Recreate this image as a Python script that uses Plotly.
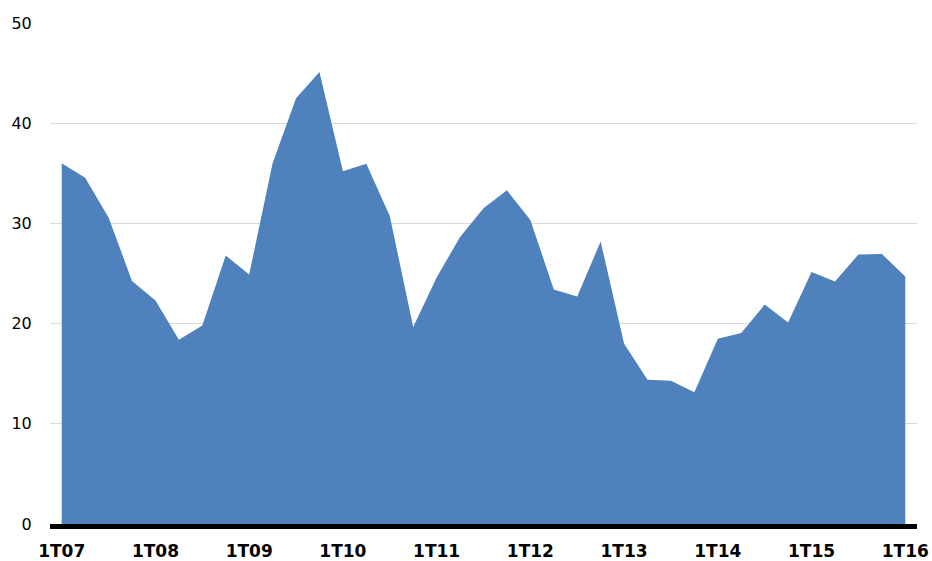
import plotly.graph_objects as go

quarters = [f"{q}T{y:02d}" for y in range(7, 17) for q in range(1, 5)][:37]
values = [36.0, 34.55, 30.6, 24.25, 22.3, 18.4, 19.8, 26.8, 24.9, 36.0, 42.5, 45.1,
          35.2, 35.95, 30.75, 19.65, 24.6, 28.65, 31.5, 33.3, 30.35, 23.4, 22.7, 28.2,
          18.0, 14.4, 14.3, 13.15, 18.5, 19.05, 21.9, 20.1, 25.15, 24.2, 26.9, 26.95, 24.7]
tick_labels = [q for q in quarters if q.startswith("1T")]
y_ticks = [0, 10, 20, 30, 40, 50]

fig = go.Figure(go.Scatter(
    x=quarters, y=values, mode="lines", fill="tozeroy",
    line=dict(width=0, color="#4F81BD"), fillcolor="#4F81BD",
    hoverinfo="x+y", showlegend=False,
))

fig.update_layout(
    width=932, height=561,
    margin=dict(l=50, r=15, t=23, b=37, autoexpand=False),
    plot_bgcolor="white", paper_bgcolor="white",
    font=dict(family="DejaVu Sans", color="black"),
    xaxis=dict(
        type="category", range=[-0.5, 36.5],
        tickmode="array", tickvals=tick_labels, ticktext=tick_labels,
        tickfont=dict(size=17, family="DejaVu Sans", weight="bold"),
        showgrid=False, showline=True, linecolor="black", linewidth=5,
        ticks="outside", ticklen=8, tickcolor="rgba(0,0,0,0)",
        layer="above traces", automargin=False,
    ),
    yaxis=dict(
        range=[0, 50], tickvals=y_ticks,
        tickfont=dict(size=16, family="DejaVu Sans"),
        showgrid=True, gridcolor="#D9D9D9", gridwidth=1,
        zeroline=False, showline=False,
        ticks="outside", ticklen=14, tickcolor="rgba(0,0,0,0)",
        automargin=False,
    ),
)

fig.write_html(
    "out.html",
    config={"displayModeBar": False},
    post_script="document.body.style.margin='0';document.body.style.overflow='hidden';",
)
